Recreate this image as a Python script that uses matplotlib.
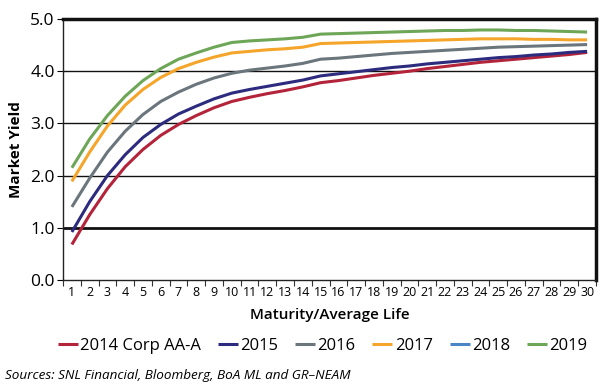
import matplotlib
matplotlib.use("Agg")
import matplotlib.pyplot as plt

years = list(range(1, 31))
y2014 = [0.68, 1.25, 1.75, 2.17, 2.50, 2.77, 2.98, 3.15, 3.30, 3.42, 3.50, 3.57, 3.63, 3.70, 3.78,
         3.82, 3.87, 3.92, 3.96, 4.00, 4.05, 4.09, 4.13, 4.17, 4.20, 4.23, 4.26, 4.29, 4.32, 4.36]
y2015 = [0.92, 1.50, 2.00, 2.40, 2.73, 2.98, 3.18, 3.33, 3.47, 3.58, 3.65, 3.71, 3.77, 3.83, 3.91,
         3.95, 3.99, 4.03, 4.07, 4.10, 4.14, 4.17, 4.20, 4.23, 4.26, 4.28, 4.31, 4.33, 4.36, 4.38]
y2016 = [1.40, 1.95, 2.45, 2.85, 3.17, 3.42, 3.60, 3.75, 3.87, 3.96, 4.02, 4.06, 4.10, 4.15, 4.23,
         4.25, 4.28, 4.31, 4.34, 4.36, 4.38, 4.40, 4.42, 4.44, 4.46, 4.47, 4.48, 4.49, 4.50, 4.51]
y2017 = [1.89, 2.45, 2.95, 3.35, 3.65, 3.88, 4.05, 4.17, 4.27, 4.35, 4.38, 4.41, 4.43, 4.46, 4.53,
         4.54, 4.55, 4.56, 4.57, 4.58, 4.59, 4.60, 4.61, 4.62, 4.62, 4.62, 4.61, 4.61, 4.60, 4.60]
y2018 = []
y2019 = [2.15, 2.70, 3.15, 3.52, 3.82, 4.05, 4.23, 4.35, 4.46, 4.55, 4.58, 4.60, 4.62, 4.65, 4.71,
         4.72, 4.73, 4.74, 4.75, 4.76, 4.77, 4.78, 4.78, 4.79, 4.79, 4.78, 4.78, 4.77, 4.76, 4.75]

labels = ["2014 Corp AA-A", "2015", "2016", "2017", "2018", "2019"]
series = [y2014, y2015, y2016, y2017, y2018, y2019]
colors = ["#b3243a", "#2c2b7e", "#6b767c", "#f4a52a", "#4a86c5", "#6ea657"]

plt.rcParams['font.family'] = ['Open Sans', 'DejaVu Sans']

fig = plt.figure(figsize=(6.03, 3.92), dpi=100)
ax = fig.add_axes([63/603, 1-280/392, (596-63)/603, (280-19)/392])

for s, lab, c in zip(series, labels, colors):
    ax.plot(years[:len(s)], s, color=c, lw=2.2, label=lab, solid_capstyle='butt')

ax.set_xlim(0.5, 30.5)
ax.set_ylim(0, 5.0)
ax.set_yticks([0, 1, 2, 3, 4, 5])
ax.set_yticklabels([f"{v:.1f}" for v in [0, 1, 2, 3, 4, 5]], fontsize=12.5)
ax.set_xticks(years)
ax.set_xticklabels([str(y) for y in years], fontsize=9)
ax.set_xticks([y + 0.5 for y in range(0, 31)], minor=True)
ax.tick_params(axis='x', which='major', length=0, pad=4)
ax.tick_params(axis='x', which='minor', length=4, width=0.8, color='#333333')
ax.tick_params(axis='y', length=4, width=0.8, pad=2)

for v in [1, 2, 3, 4]:
    ax.axhline(v, color='#111111', lw=2.0 if v == 1 else 1.0, zorder=0)

for side in ['left', 'bottom']:
    ax.spines[side].set_linewidth(1.0)
    ax.spines[side].set_color('#222222')
for side in ['top', 'right']:
    ax.spines[side].set_linewidth(2.5)
    ax.spines[side].set_color('#111111')

ax.set_ylabel("Market Yield", fontsize=11, fontweight='bold', labelpad=5)
ax.set_xlabel("Maturity/Average Life", fontsize=11, fontweight='semibold', labelpad=7)

handles, labs = ax.get_legend_handles_labels()
fig.legend(handles, labs, loc='center', bbox_to_anchor=(0.535, 1-346/392), ncol=6,
           frameon=False, fontsize=12, handlelength=1.2, handletextpad=0.15,
           columnspacing=1.0)

fig.text(5/603, 1-375/392, "Sources: SNL Financial, Bloomberg, BoA ML and GR\u2013NEAM",
         fontsize=9.7, style='italic', va='center', ha='left')

fig.savefig("out.png", dpi=100)
